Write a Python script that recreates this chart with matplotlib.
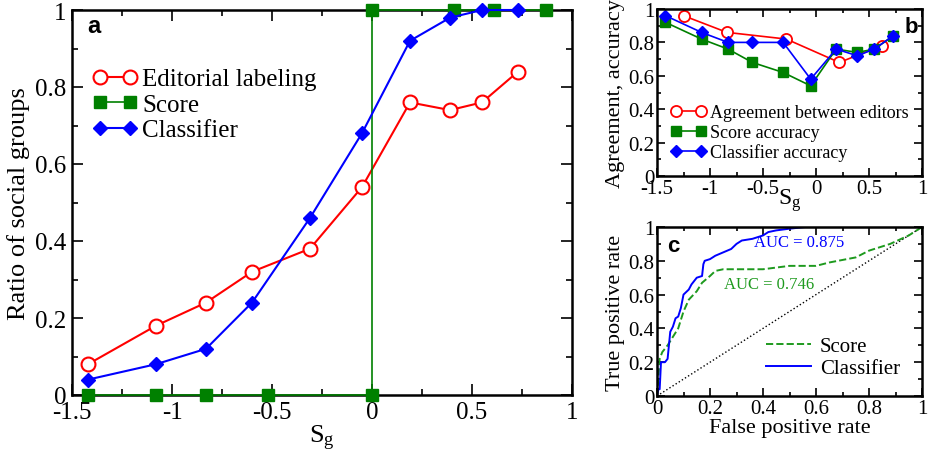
import matplotlib
matplotlib.use('Agg')
import matplotlib.pyplot as plt
import numpy as np

plt.rcParams['font.family'] = ['Liberation Serif', 'DejaVu Serif']
plt.rcParams['mathtext.fontset'] = 'custom'
plt.rcParams['mathtext.rm'] = 'Liberation Serif'
plt.rcParams['mathtext.it'] = 'Liberation Serif:italic'
plt.rcParams['axes.unicode_minus'] = False

# panel a
sg = [-1.42, -1.08, -0.83, -0.60, -0.31, -0.05, 0.19, 0.39, 0.55, 0.73]
editorial = [0.08, 0.18, 0.24, 0.32, 0.38, 0.54, 0.76, 0.74, 0.76, 0.84]
classifier = [0.04, 0.08, 0.12, 0.24, 0.46, 0.68, 0.92, 0.98, 1.0, 1.0]
score_x = [-1.42, -1.08, -0.83, -0.52, 0.0, 0.0, 0.41, 0.61, 0.87]
score_y = [0, 0, 0, 0, 0, 1, 1, 1, 1]

# panel b
agree_x = [-1.25, -0.84, -0.28, 0.22, 0.62]
agree_y = [0.96, 0.86, 0.82, 0.68, 0.78]
score_acc = [0.92, 0.82, 0.76, 0.68, 0.62, 0.54, 0.76, 0.74, 0.76, 0.84]
class_acc = [0.96, 0.86, 0.80, 0.80, 0.80, 0.58, 0.76, 0.72, 0.76, 0.84]

# panel c (ROC curves)
roc_cls_fpr = [0, 0.005, 0.01, 0.012, 0.015, 0.03, 0.04, 0.045, 0.05, 0.06, 0.07, 0.08,
               0.09, 0.1, 0.12, 0.13, 0.15, 0.17, 0.175, 0.18, 0.2, 0.22, 0.25, 0.28,
               0.3, 0.32, 0.36, 0.4, 0.42, 0.45, 0.5, 0.56, 1.0]
roc_cls_tpr = [0, 0.04, 0.04, 0.1, 0.2, 0.2, 0.22, 0.3, 0.38, 0.41, 0.46, 0.47,
               0.52, 0.6, 0.63, 0.66, 0.7, 0.71, 0.78, 0.8, 0.81, 0.83, 0.85, 0.87,
               0.9, 0.92, 0.93, 0.95, 0.97, 0.98, 0.99, 1.0, 1.0]
roc_sc_fpr = [0, 0.005, 0.01, 0.02, 0.04, 0.06, 0.08, 0.1, 0.12, 0.15, 0.17, 0.2,
              0.22, 0.25, 0.3, 0.4, 0.45, 0.5, 0.6, 0.65, 0.75, 0.8, 0.88, 0.95, 1.0]
roc_sc_tpr = [0, 0.1, 0.22, 0.26, 0.3, 0.35, 0.4, 0.5, 0.57, 0.62, 0.67, 0.71,
              0.74, 0.75, 0.75, 0.75, 0.76, 0.77, 0.77, 0.79, 0.82, 0.86, 0.9, 0.95, 1.0]

W, H = 931, 456
fig = plt.figure(figsize=(W / 100, H / 100), dpi=100)


def rect(l, t, r, b):
    return [l / W, 1 - b / H, (r - l) / W, (b - t) / H]


def style(ax, fs, maj=8, mnr=4):
    ax.tick_params(which='both', direction='in', top=True, right=True, width=1.2, labelsize=fs)
    ax.tick_params(which='major', length=maj, pad=4)
    ax.tick_params(which='minor', length=mnr)
    for s in ax.spines.values():
        s.set_linewidth(1.8)


# ---- a ----
ax = fig.add_axes(rect(72, 11, 572, 396))
ax.plot(sg, editorial, '-o', color='red', mfc='white', mec='red', mew=1.5, ms=10, lw=1.5,
        label='Editorial labeling')
ax.plot(score_x, score_y, '-s', color='green', ms=9, lw=1.2, clip_on=False, zorder=5,
        label='Score')
ax.plot(sg, classifier, '-D', color='blue', ms=7, lw=1.5, clip_on=False, zorder=6,
        label='Classifier')
ax.set_xlim(-1.5, 1)
ax.set_ylim(0, 1)
ax.set_xticks(np.arange(-1.5, 1.01, 0.5))
ax.set_xticklabels(['-1.5', '-1', '-0.5', '0', '0.5', '1'])
ax.set_yticks(np.arange(0, 1.01, 0.2))
ax.set_yticklabels(['0', '0.2', '0.4', '0.6', '0.8', '1'])
ax.set_xticks(np.arange(-1.5, 1.01, 0.25), minor=True)
ax.set_yticks(np.arange(0, 1.01, 0.1), minor=True)
style(ax, 18)
ax.set_ylabel('Ratio of social groups', fontsize=19, labelpad=4)
ax.set_xlabel(r'S$_{\mathrm{g}}$', fontsize=19, labelpad=0)
ax.legend(loc='upper left', bbox_to_anchor=(0.04, 0.85), frameon=False, fontsize=18,
          numpoints=2, handlelength=1.8, handletextpad=0.2, labelspacing=0.12,
          borderaxespad=0, borderpad=0)
ax.text(0.03, 0.99, 'a', transform=ax.transAxes, fontsize=17, fontweight='bold',
        family='Liberation Sans', va='top', ha='left')

# ---- b ----
bx = fig.add_axes(rect(657, 10, 922, 177))
bx.plot(agree_x, agree_y, '-o', color='red', mfc='white', mec='red', mew=1.3, ms=8, lw=1.2,
        label='Agreement between editors')
bx.plot(sg, score_acc, '-s', color='green', ms=7, lw=1.2, label='Score accuracy')
bx.plot(sg, class_acc, '-D', color='blue', ms=6, lw=1.2, label='Classifier accuracy')
bx.set_xlim(-1.5, 1)
bx.set_ylim(0, 1)
bx.set_xticks(np.arange(-1.5, 1.01, 0.5))
bx.set_xticklabels(['-1.5', '-1', '-0.5', '0', '0.5', '1'])
bx.set_yticks(np.arange(0, 1.01, 0.2))
bx.set_yticklabels(['0', '0.2', '0.4', '0.6', '0.8', '1'])
bx.set_xticks(np.arange(-1.5, 1.01, 0.25), minor=True)
bx.set_yticks(np.arange(0, 1.01, 0.1), minor=True)
style(bx, 15, 6, 3)
bx.tick_params(which='major', pad=2)
bx.set_ylabel('Agreement, accuracy', fontsize=16, labelpad=2)
bx.set_xlabel(r'S$_{\mathrm{g}}$', fontsize=17, labelpad=-8)
bx.legend(loc='upper left', bbox_to_anchor=(0.05, 0.43), frameon=False, fontsize=13,
          numpoints=2, handlelength=2.0, handletextpad=0.2, labelspacing=0.15,
          borderaxespad=0, borderpad=0)
bx.text(0.985, 0.96, 'b', transform=bx.transAxes, fontsize=16, fontweight='bold',
        family='Liberation Sans', va='top', ha='right')

# ---- c ----
cx = fig.add_axes(rect(657, 228, 922, 397))
cx.plot([0, 1], [0, 1], ':', color='black', lw=1.0)
cx.plot(roc_sc_fpr, roc_sc_tpr, '--', color='#1e9a1e', lw=1.4, label='Score')
cx.plot(roc_cls_fpr, roc_cls_tpr, '-', color='blue', lw=1.4, label='Classifier')
cx.set_xlim(0, 1)
cx.set_ylim(0, 1)
cx.set_xticks(np.arange(0, 1.01, 0.2))
cx.set_xticklabels(['0', '0.2', '0.4', '0.6', '0.8', '1'])
cx.set_yticks(np.arange(0, 1.01, 0.2))
cx.set_yticklabels(['0', '0.2', '0.4', '0.6', '0.8', '1'])
cx.set_xticks(np.arange(0, 1.01, 0.1), minor=True)
cx.set_yticks(np.arange(0, 1.01, 0.1), minor=True)
style(cx, 15, 6, 3)
cx.tick_params(which='major', pad=2)
cx.set_ylabel('True positive rate', fontsize=16, labelpad=2)
cx.set_xlabel('False positive rate', fontsize=16, labelpad=0)
cx.legend(loc='upper left', bbox_to_anchor=(0.41, 0.35), frameon=False, fontsize=15,
          handlelength=2.2, handletextpad=0.4, labelspacing=0.1,
          borderaxespad=0, borderpad=0)
cx.text(0.535, 0.91, 'AUC = 0.875', transform=cx.transAxes, color='blue', fontsize=12,
        ha='center', va='center')
cx.text(0.425, 0.66, 'AUC = 0.746', transform=cx.transAxes, color='#1e9a1e', fontsize=12,
        ha='center', va='center')
cx.text(0.04, 0.95, 'c', transform=cx.transAxes, fontsize=16, fontweight='bold',
        family='Liberation Sans', va='top', ha='left')

fig.savefig('out.png', dpi=100)
